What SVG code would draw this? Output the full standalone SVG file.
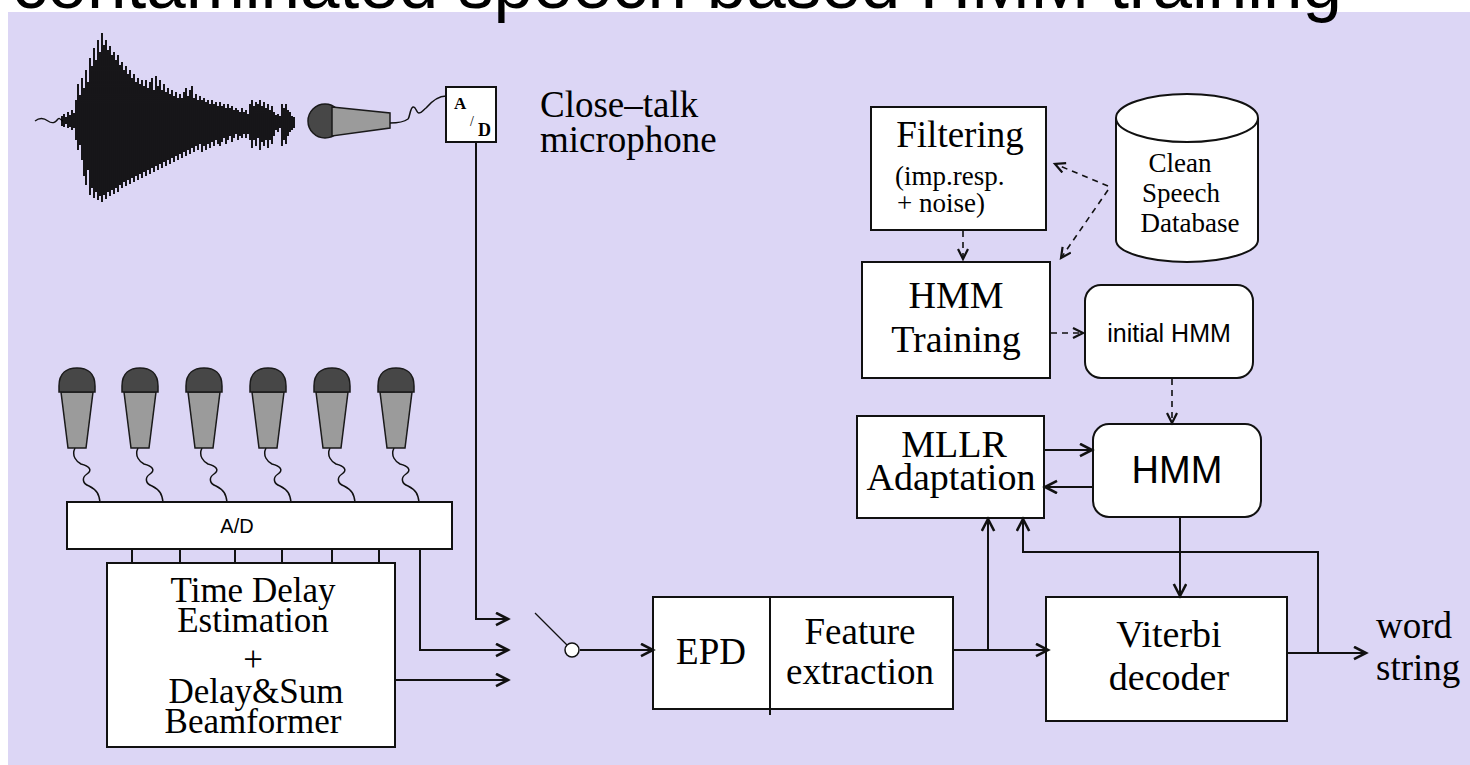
<svg xmlns="http://www.w3.org/2000/svg" width="1470" height="765" viewBox="0 0 1470 765">
  <style>
    .box { fill: #ffffff; stroke: #111; stroke-width: 2; }
    .serif { font-family: "Liberation Serif", "Times New Roman", serif; fill: #000; }
    .sans { font-family: "Liberation Sans", Arial, sans-serif; fill: #000; }
    .wire { fill: none; stroke: #111; stroke-width: 2; }
    .dash { fill: none; stroke: #111; stroke-width: 1.6; stroke-dasharray: 6 5; }
    .cable { fill: none; stroke: #111; stroke-width: 1.5; }
    .head { fill: #474747; stroke: #1a1a1a; stroke-width: 1.5; }
    .body { fill: #9b9b9b; stroke: #1a1a1a; stroke-width: 1.5; }
  </style>
  <defs>
    <marker id="arr" markerWidth="16" markerHeight="16" refX="13" refY="7" orient="auto" markerUnits="userSpaceOnUse">
      <path d="M1,0.8 L13,7 L1,13.2" fill="none" stroke="#111" stroke-width="2.6"/>
    </marker>
    <marker id="arr-s" markerWidth="14" markerHeight="14" refX="11" refY="6" orient="auto" markerUnits="userSpaceOnUse">
      <path d="M1,1 L11,6 L1,11" fill="none" stroke="#111" stroke-width="2.2"/>
    </marker>
    <!-- one microphone of the array, drawn round x = 0 -->
    <g id="array-mic">
      <path class="cable" d="M-2,448 C-6,456 0,462 4,464 C12,466 16,470 10,474 C4,478 6,484 12,486 C20,490 22,494 23,502"/>
      <path class="body" d="M-16,392 L16,392 L9,448 L-9,448 Z"/>
      <path class="head" d="M-18,392 V386 C-18,373 -10,368 0,368 C10,368 18,373 18,386 V392 Z"/>
    </g>
  </defs>

  <!-- panel -->
  <rect x="0" y="0" width="1470" height="765" fill="#ffffff"/>
  <rect x="8" y="12" width="1462" height="753" fill="#dcd6f5"/>
  <text class="sans" x="12" y="8" font-size="71">contaminated speech based HMM training</text>

  <!-- speech waveform -->
  <g id="waveform">
    <path fill="none" stroke="#111" stroke-width="1.3" d="M35,121 C40,117 44,118 48,121 C52,124 55,123 58,119 C60,117 61,121 63,121"/>
    <path fill="none" stroke="#000" stroke-width="1.8" d="M62,116V126M64,114V127M66,117V124M68,112V128M70,115V127M72,110V130M74,113V128M76,100V140M78,84V150M80,95V145M82,78V160M84,88V176M86,70V185M88,82V170M90,58V195M92,66V188M94,48V198M96,60V192M98,40V200M100,52V196M102,33V202M104,45V195M106,40V199M108,50V192M110,46V196M112,55V190M114,52V194M116,60V188M118,55V192M120,65V185M122,62V188M124,70V182M126,66V186M128,74V180M130,70V184M132,78V178M134,74V182M136,82V176M138,78V180M140,84V174M142,80V178M144,86V172M146,80V176M148,88V170M150,82V174M152,78V168M154,90V172M156,76V166M158,86V170M160,80V164M162,90V168M164,84V162M166,92V166M168,88V160M170,94V164M172,90V158M174,96V162M176,92V156M178,98V160M180,94V154M182,98V158M184,92V152M186,88V156M188,96V150M190,90V154M192,86V148M194,98V152M196,94V146M198,100V150M200,96V144M202,100V152M204,98V146M206,102V150M208,100V144M210,104V148M212,100V142M214,104V146M216,102V140M218,106V144M220,102V146M222,106V142M224,104V138M226,108V144M228,104V140M230,108V136M232,106V142M234,110V138M236,108V134M238,110V140M240,112V136M242,108V138M244,112V134M246,110V138M248,114V134M250,104V140M252,100V148M254,106V140M256,102V146M258,104V138M260,100V150M262,106V142M264,102V146M266,108V140M268,104V148M270,110V140M272,106V144M274,112V136M276,115V130M278,114V132M280,116V128M282,104V146M284,108V140M286,104V144M288,110V136M290,112V132M292,116V130M294,117V128"/>
  </g>

  <!-- close-talk microphone and its converter -->
  <g id="close-talk-mic">
    <circle class="head" cx="325" cy="121" r="17"/>
    <path class="body" d="M332,107 L390,113 L390,128 L332,136 Z"/>
    <path class="cable" d="M390,123 C398,123 404,122 408,119 C410,117 410,108 413,107 C416,106 416,113 419,113 C422,113 423,110 426,108 C432,101 438,96 446,96"/>
  </g>
  <g id="close-talk-ad">
    <rect class="box" x="446" y="87" width="50" height="55"/>
    <text class="serif" x="454" y="109" font-size="17" font-weight="bold">A</text>
    <text class="serif" x="470" y="126" font-size="14">/</text>
    <text class="serif" x="478" y="136" font-size="18" font-weight="bold">D</text>
  </g>
  <g id="close-talk-label">
    <text class="serif" x="540" y="117" font-size="37">Close–talk</text>
    <text class="serif" x="540" y="152" font-size="37">microphone</text>
  </g>

  <!-- microphone array -->
  <g id="mic-array">
    <use href="#array-mic" x="77"/>
    <use href="#array-mic" x="140"/>
    <use href="#array-mic" x="204"/>
    <use href="#array-mic" x="268"/>
    <use href="#array-mic" x="332"/>
    <use href="#array-mic" x="396"/>
  </g>
  <g id="array-ad">
    <rect class="box" x="67" y="502" width="385" height="47"/>
    <text class="sans" x="237" y="533" font-size="20" text-anchor="middle">A/D</text>
  </g>
  <g id="beamformer">
    <rect class="box" x="107" y="563" width="288" height="184"/>
    <text class="serif" x="253" y="602" font-size="35" text-anchor="middle">Time Delay</text>
    <text class="serif" x="253" y="632" font-size="35" text-anchor="middle">Estimation</text>
    <text class="serif" x="253" y="671" font-size="35" text-anchor="middle">+</text>
    <text class="serif" x="256" y="703" font-size="35" text-anchor="middle">Delay&amp;Sum</text>
    <text class="serif" x="253" y="733" font-size="35" text-anchor="middle">Beamformer</text>
  </g>

  <!-- input selector -->
  <g id="switch">
    <line x1="535" y1="613" x2="567" y2="645" stroke="#111" stroke-width="1.3"/>
    <circle cx="572" cy="650" r="7" fill="#ffffff" stroke="#111" stroke-width="1.5"/>
  </g>

  <g id="epd-feature">
    <rect class="box" x="653" y="597" width="300" height="112"/>
    <line x1="770" y1="597" x2="770" y2="715" stroke="#111" stroke-width="2"/>
    <text class="serif" x="711" y="664" font-size="37" text-anchor="middle">EPD</text>
    <text class="serif" x="860" y="644" font-size="37" text-anchor="middle">Feature</text>
    <text class="serif" x="860" y="684" font-size="37" text-anchor="middle">extraction</text>
  </g>

  <g id="filtering">
    <rect class="box" x="871" y="107" width="175" height="123"/>
    <text class="serif" x="960" y="147" font-size="37" text-anchor="middle">Filtering</text>
    <text class="serif" x="895" y="185" font-size="27">(imp.resp.</text>
    <text class="serif" x="897" y="212" font-size="27">+ noise)</text>
  </g>

  <g id="clean-speech-db">
    <path class="box" d="M1116,118 V240 A71,22 0 0 0 1258,240 V118"/>
    <ellipse class="box" cx="1187" cy="118" rx="71" ry="24"/>
    <text class="serif" x="1180" y="172" font-size="27" text-anchor="middle">Clean</text>
    <text class="serif" x="1181" y="202" font-size="27" text-anchor="middle">Speech</text>
    <text class="serif" x="1190" y="232" font-size="27" text-anchor="middle">Database</text>
  </g>

  <g id="hmm-training">
    <rect class="box" x="862" y="262" width="188" height="116"/>
    <text class="serif" x="956" y="308" font-size="38" text-anchor="middle">HMM</text>
    <text class="serif" x="956" y="352" font-size="38" text-anchor="middle">Training</text>
  </g>

  <g id="initial-hmm">
    <rect class="box" x="1085" y="285" width="168" height="93" rx="16"/>
    <text class="sans" x="1169" y="342" font-size="25" text-anchor="middle">initial HMM</text>
  </g>

  <g id="mllr">
    <rect class="box" x="857" y="416" width="187" height="102"/>
    <text class="serif" x="954" y="457" font-size="38" text-anchor="middle">MLLR</text>
    <text class="serif" x="951" y="490" font-size="38" text-anchor="middle">Adaptation</text>
  </g>

  <g id="hmm">
    <rect class="box" x="1093" y="424" width="168" height="93" rx="16"/>
    <text class="sans" x="1177" y="483" font-size="38" text-anchor="middle">HMM</text>
  </g>

  <g id="viterbi">
    <rect class="box" x="1046" y="597" width="241" height="124"/>
    <text class="serif" x="1169" y="647" font-size="38" text-anchor="middle">Viterbi</text>
    <text class="serif" x="1169" y="690" font-size="38" text-anchor="middle">decoder</text>
  </g>

  <g id="word-string">
    <text class="serif" x="1376" y="638" font-size="37">word</text>
    <text class="serif" x="1376" y="680" font-size="37">string</text>
  </g>

  <!-- connectors -->
  <g id="connectors">
    <path class="wire" d="M132,549 V563 M180,549 V563 M235,549 V563 M282,549 V563 M332,549 V563 M379,549 V563"/>
    <path class="wire" d="M476,142 V619 H508" marker-end="url(#arr)"/>
    <path class="wire" d="M420,549 V650 H508" marker-end="url(#arr)"/>
    <path class="wire" d="M395,680 H508" marker-end="url(#arr)"/>
    <path class="wire" d="M580,650 H653" marker-end="url(#arr)"/>
    <path class="wire" d="M953,650 H1048" marker-end="url(#arr)"/>
    <path class="wire" d="M988,650 V519" marker-end="url(#arr)"/>
    <path class="wire" d="M1318,653 V552 H1023 V519" marker-end="url(#arr)"/>
    <path class="wire" d="M1287,653 H1366" marker-end="url(#arr)"/>
    <path class="wire" d="M1180,517 V596" marker-end="url(#arr)"/>
    <path class="wire" d="M1044,450 H1092" marker-end="url(#arr)"/>
    <path class="wire" d="M1093,487 H1045" marker-end="url(#arr)"/>
    <path class="dash" d="M963,231 V259" marker-end="url(#arr-s)"/>
    <path class="dash" d="M1108,186 L1055,164" marker-end="url(#arr-s)"/>
    <path class="dash" d="M1108,190 L1061,258" marker-end="url(#arr-s)"/>
    <path class="dash" d="M1051,333 H1083" marker-end="url(#arr-s)"/>
    <path class="dash" d="M1172,379 V423" marker-end="url(#arr-s)"/>
  </g>
</svg>
